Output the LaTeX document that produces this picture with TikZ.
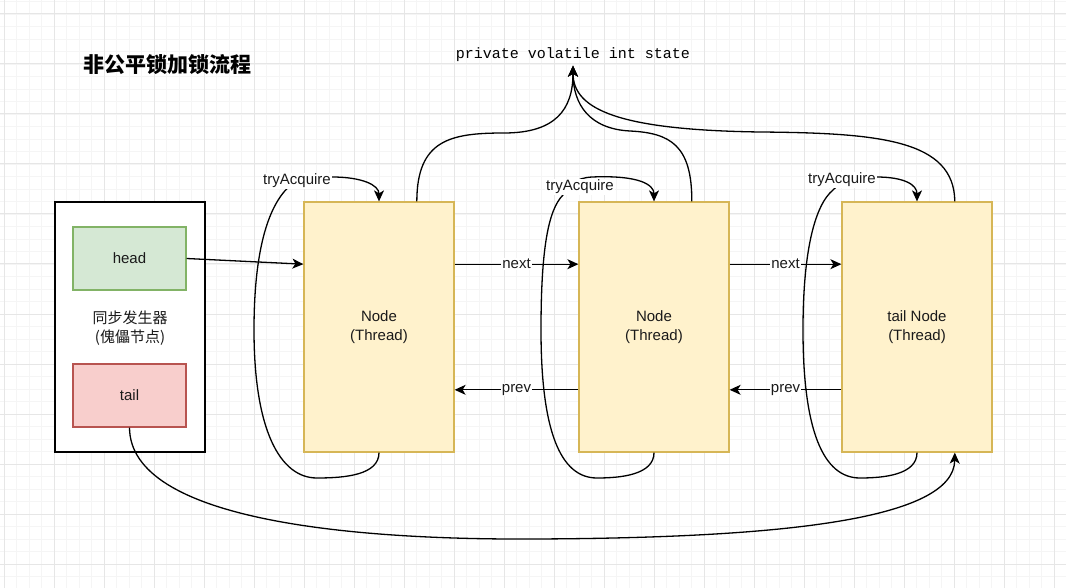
\documentclass[tikz,border=0pt]{standalone}
\usepackage{fontspec}
\setmainfont{Liberation Sans}
\setmonofont{Liberation Mono}
\newfontfamily\cjk{Noto Sans CJK SC}
\usetikzlibrary{arrows.meta,calc}
\definecolor{gridmin}{HTML}{F5F5F5}
\definecolor{gridmaj}{HTML}{E6E6E6}
\definecolor{yfill}{HTML}{FFF2CC}
\definecolor{ybord}{HTML}{D6B656}
\definecolor{gfill}{HTML}{D5E8D4}
\definecolor{gbord}{HTML}{82B366}
\definecolor{rfill}{HTML}{F8CECC}
\definecolor{rbord}{HTML}{B85450}
\definecolor{txt}{HTML}{1A1A1A}
\begin{document}
\begin{tikzpicture}[x=1pt,y=-1pt,
  conn/.style={line width=1.3pt, draw=black},
  arr/.style={conn,-{Stealth[length=11pt,width=10pt,inset=3pt]}},
  boxtext/.style={align=center, font=\fontsize{15}{19}\selectfont, text=txt, inner sep=0pt},
  ybox/.style={boxtext, draw=ybord, fill=yfill, line width=1.25pt, minimum width=150pt, minimum height=250pt},
  gbox/.style={boxtext, draw=gbord, fill=gfill, line width=1.25pt, minimum width=113pt, minimum height=63pt},
  rbox/.style={boxtext, draw=rbord, fill=rfill, line width=1.25pt, minimum width=113pt, minimum height=63pt},
  sbox/.style={boxtext, draw=black, fill=white, line width=1.25pt, minimum width=150pt, minimum height=250pt},
  lbl/.style={fill=white, inner sep=1pt, font=\fontsize{15}{18}\selectfont, text=txt},
  gmin/.style={draw=gridmin, line width=0.8pt},
  gmaj/.style={draw=gridmaj, line width=1pt}
]
\useasboundingbox (0,0) rectangle (1066,588);
\fill[white] (0,0) rectangle (1066,588);
% grid
\foreach \k in {0,...,85} {
  \pgfmathsetmacro\xx{4.3+12.5*\k}
  \draw[gmin] (\xx,0) -- (\xx,588);
}
\foreach \k in {0,...,47} {
  \pgfmathsetmacro\yy{1.5+12.5*\k}
  \draw[gmin] (0,\yy) -- (1066,\yy);
}
\foreach \k in {0,...,21} {
  \pgfmathsetmacro\xx{4.3+50*\k}
  \draw[gmaj] (\xx,0) -- (\xx,588);
}
\foreach \k in {0,...,11} {
  \pgfmathsetmacro\yy{14+50*\k}
  \draw[gmaj] (0,\yy) -- (1066,\yy);
}

% title
\node[font=\cjk\bfseries\fontsize{21}{24}\selectfont, inner sep=0pt] (title) at (167,65) {非公平锁加锁流程};
\node[font=\ttfamily\fontsize{15}{18}\selectfont, inner sep=3.5pt] (state) at (573,55) {private volatile int state};

% sync box
\node[sbox] (sync) at (130,327) {};
\node[boxtext, font=\cjk\fontsize{15}{19}\selectfont] (synclbl) at (130,328) {同步发生器\\(傀儡节点)};
\node[gbox] (head) at (129.5,258.5) {head};
\node[rbox] (tail) at (129.5,395.5) {tail};

% nodes
\node[ybox] (n1) at (379,327) {Node\\(Thread)};
\node[ybox] (n2) at (654,327) {Node\\(Thread)};
\node[ybox] (n3) at (917,327) {tail Node\\(Thread)};

% head -> n1
\draw[arr] (head.east) -- ($(n1.north west)!0.25!(n1.south west)$);

% next / prev
\draw[arr] ($(n1.north east)!0.25!(n1.south east)$) -- node[lbl] {next} ($(n2.north west)!0.25!(n2.south west)$);
\draw[arr] ($(n2.north east)!0.25!(n2.south east)$) -- node[lbl] {next} ($(n3.north west)!0.25!(n3.south west)$);
\draw[arr] ($(n2.north west)!0.75!(n2.south west)$) -- node[lbl] {prev} ($(n1.north east)!0.75!(n1.south east)$);
\draw[arr] ($(n3.north west)!0.75!(n3.south west)$) -- node[lbl] {prev} ($(n2.north east)!0.75!(n2.south east)$);

% to state
\draw[arr] ($(n1.north west)!0.75!(n1.north east)$) .. controls (417,140) and (450,133) .. (504,133)
   .. controls (555,133) and (573,110) .. (state.south);
\draw[arr] ($(n2.north west)!0.75!(n2.north east)$) .. controls (692,145) and (670,133) .. (630,131)
   .. controls (590,129) and (573,105) .. (state.south);
\draw[arr] ($(n3.north west)!0.75!(n3.north east)$) .. controls (954,140) and (880,133) .. (760,132)
   .. controls (620,130) and (573,110) .. (state.south);

% tryAcquire loops
\draw[arr] (n1.south) .. controls (379,475) and (345,478) .. (317,478)
   .. controls (280,478) and (254,430) .. (254,330)
   .. controls (254,240) and (272,200) .. (292,184)
   .. controls (302,178) and (312,177) .. (332,177)
   .. controls (362,177) and (379,185) .. (n1.north);
\draw[arr] (n2.south) .. controls (654,475) and (620,478) .. (597,478)
   .. controls (560,478) and (541,430) .. (541,330)
   .. controls (541,250) and (548,210) .. (563,195)
   .. controls (570,185) and (575,178) .. (592,177)
   .. controls (640,175) and (654,185) .. (n2.north);
\draw[arr] (n3.south) .. controls (917,475) and (883,478) .. (860,478)
   .. controls (823,478) and (803,430) .. (803,330)
   .. controls (803,250) and (815,205) .. (833,190)
   .. controls (840,182) and (855,177) .. (876,177)
   .. controls (905,177) and (917,185) .. (n3.north);
\node[lbl] (t1) at (297,181) {tryAcquire};
\node[lbl] (t2) at (580,187) {tryAcquire};
\node[lbl] (t3) at (842,180) {tryAcquire};

% tail -> n3
\draw[arr] (tail.south) .. controls (130,520) and (350,540) .. (534,539)
   .. controls (780,538) and (954,520) .. ($(n3.south west)!0.75!(n3.south east)$);
\end{tikzpicture}
\end{document}
